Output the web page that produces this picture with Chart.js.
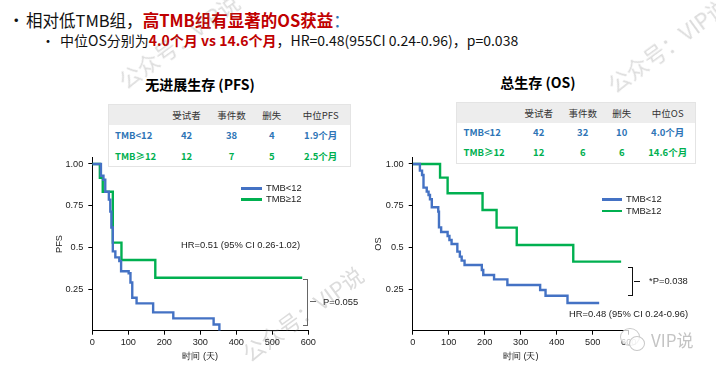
<!DOCTYPE html>
<html>
<head>
<meta charset="utf-8">
<script src="https://cdn.jsdelivr.net/npm/chart.js@4.4.0/dist/chart.umd.min.js"></script>
<style>
  html, body { margin: 0; padding: 0; background: #fff; }
  body { width: 716px; height: 372px; position: relative; overflow: hidden;
         font-family: "Noto Sans CJK SC", "Noto Sans", sans-serif; color: #111; }
  .abs { position: absolute; white-space: nowrap; }
  canvas { position: absolute; left: 0; top: 0; }
  .red { color: #C00000; font-weight: bold; }
  .lbl { font-family: "Liberation Sans", Arial, sans-serif; font-size: 9.4px; line-height: 12px; color: #222; }
  .title { font-size: 14px; font-weight: bold; line-height: 18px; color: #000; transform: translateX(-50%); }
  .tbl { position: absolute; background: #fff; border: 1px solid #e4e4e4; box-sizing: border-box; }
  .tbl .row { position: relative; }
  .tbl .hdr { background: #ededed; }
  .tbl span { position: absolute; top: 0; transform: translateX(-50%); font-size: 9.5px; white-space: nowrap; }
  .tbl span.first { transform: none; }
  .leg { position: absolute; height: 2.5px; }
  .wm { position: absolute; white-space: nowrap; font-size: 22px; color: rgba(120,120,120,0.26);
        transform: translate(-50%, -50%) rotate(-36deg); }
</style>
</head>
<body>
  <!-- bullet lines -->
  <div class="abs" style="left:8px;top:10px;font-size:16.5px;line-height:20px;">•</div>
  <div class="abs" style="left:26px;top:10px;font-size:16.5px;line-height:20px;">相对低TMB组，<span class="red">高TMB组有显著的OS获益</span><span style="color:#2E75B6">：</span></div>
  <div class="abs" style="left:41px;top:31px;font-size:14px;line-height:19px;">•</div>
  <div class="abs" style="left:60px;top:31px;font-size:14px;line-height:19px;">中位OS分别为<span class="red">4.0个月 vs 14.6个月</span>，HR=0.48(955CI 0.24-0.96)，p=0.038</div>

  <!-- panel titles -->
  <div class="abs title" style="left:200px;top:75px;">无进展生存 (PFS)</div>
  <div class="abs title" style="left:538px;top:73px;">总生存 (OS)</div>

  <div id="pfsTable"></div>
  <div id="osTable"></div>

  <canvas id="pfsChart" width="716" height="372"></canvas>
  <canvas id="osChart" width="716" height="372"></canvas>

  <!-- PFS annotations -->
  <div class="leg" style="left:241px;top:187px;width:21px;background:#4472C4;"></div>
  <div class="abs lbl" style="left:266px;top:182px;">TMB&lt;12</div>
  <div class="leg" style="left:241px;top:198px;width:21px;background:#00B050;"></div>
  <div class="abs lbl" style="left:266px;top:193px;">TMB≥12</div>
  <div class="abs lbl" style="left:181px;top:239px;">HR=0.51 (95% CI 0.26-1.02)</div>
  <div class="abs" style="left:303px;top:279px;width:4px;height:45px;border:1.5px solid #666;border-left:none;"></div>
  <div class="abs" style="left:310px;top:301px;width:6px;border-top:1.5px solid #666;"></div>
  <div class="abs lbl" style="left:323px;top:296px;">P=0.055</div>

  <!-- OS annotations -->
  <div class="leg" style="left:602px;top:198px;width:20px;background:#4472C4;"></div>
  <div class="abs lbl" style="left:626px;top:193px;">TMB&lt;12</div>
  <div class="leg" style="left:602px;top:209.5px;width:20px;background:#00B050;"></div>
  <div class="abs lbl" style="left:626px;top:204.7px;">TMB≥12</div>
  <div class="abs" style="left:628px;top:266.5px;width:4px;height:27px;border:1.2px solid #111;border-left:none;"></div>
  <div class="abs" style="left:634px;top:280.5px;width:6px;border-top:1.2px solid #111;"></div>
  <div class="abs lbl" style="left:649px;top:275px;">*P=0.038</div>
  <div class="abs lbl" style="left:569px;top:308px;">HR=0.48 (95% CI 0.24-0.96)</div>

  <!-- watermarks -->
  <div class="wm" style="left:178px;top:40px;">公众号：VIP说</div>
  <div class="wm" style="left:667px;top:44px;">公众号：VIP说</div>
  <div class="wm" style="left:302px;top:313px;">公众号：VIP说</div>
  <div class="abs" style="left:620px;top:328px;width:18px;height:16px;border-radius:50%;border:1px solid #c8c8c8;background:rgba(255,255,255,0.75);"></div>
  <div class="abs" style="left:629px;top:336px;width:14px;height:13px;border-radius:50%;border:1px solid #c8c8c8;background:rgba(255,255,255,0.75);"></div>
  <div class="abs" style="left:651px;top:329px;font-size:17px;line-height:22px;color:#c4c4c4;">VIP说</div>

<script>
  // ---- data (days, survival) ----
  const xTicks = [0, 100, 200, 300, 400, 500, 600];
  const yTicks = [0.25, 0.5, 0.75, 1.0];
  const yTickLabels = ["0.25", "0.5", "0.75", "1.00"];

  const pfsLowDays  = [0, 24, 31, 36, 46, 50, 53, 57, 64, 75, 80, 101, 106, 111, 123, 169, 225, 337, 353];
  const pfsLowSurv  = [1, 0.929, 0.905, 0.833, 0.786, 0.714, 0.619, 0.476, 0.44, 0.417, 0.357, 0.345, 0.289, 0.198, 0.164, 0.11, 0.074, 0.037, 0];
  const pfsHighDays = [0, 21, 29, 57, 81, 175, 583];
  const pfsHighSurv = [1, 0.917, 0.833, 0.528, 0.424, 0.318, 0.318];

  const osLowDays  = [0, 20, 26, 30, 39, 44, 48, 53, 71, 73, 79, 97, 102, 108, 124, 131, 136, 144, 192, 196, 226, 263, 354, 369, 430, 518];
  const osLowSurv  = [1, 0.96, 0.934, 0.858, 0.834, 0.814, 0.788, 0.74, 0.714, 0.62, 0.592, 0.568, 0.544, 0.52, 0.474, 0.444, 0.42, 0.394, 0.364, 0.334, 0.308, 0.274, 0.244, 0.21, 0.166, 0.166];
  const osHighDays = [0, 76, 97, 194, 233, 289, 446, 579];
  const osHighSurv = [1, 0.918, 0.824, 0.724, 0.618, 0.514, 0.414, 0.414];

  const tableHeader = ["", "受试者", "事件数", "删失"];
  const pfsRows = [["TMB<12", "42", "38", "4", "1.9个月"], ["TMB≥12", "12", "7", "5", "2.5个月"]];
  const osRows  = [["TMB<12", "42", "32", "10", "4.0个月"], ["TMB≥12", "12", "6", "6", "14.6个月"]];

  const BLUE = "#4472C4", GREEN = "#00B050";
  const ROW_COLORS = ["#2E75B6", "#00B050"];

  /* --------------------------- TABLES ----------------------------------- */
  function buildTable(id, box, centers, lastHead, rows) {
    const el = document.getElementById(id);
    el.className = "tbl";
    Object.assign(el.style, { left: box.left + "px", top: box.top + "px", width: box.width + "px" });
    const head = [...tableHeader, lastHead];
    const mk = (cells, h, cls, color, weight) => {
      const r = document.createElement("div");
      r.className = "row " + cls;
      r.style.height = h + "px";
      cells.forEach((c, i) => {
        const s = document.createElement("span");
        s.textContent = c;
        s.style.lineHeight = h + "px";
        if (i === 0) { s.className = "first"; s.style.left = box.labelLeft + "px"; }
        else s.style.left = centers[i - 1] + "px";
        s.style.color = color;
        s.style.fontWeight = (i === 4 || i === 0) ? "bold" : weight;
        r.appendChild(s);
      });
      el.appendChild(r);
    };
    mk(head, box.headH, "hdr", "#333", "normal");
    el.querySelectorAll(".hdr span").forEach(s => s.style.fontWeight = "normal");
    rows.forEach((r, i) => mk(r, box.rowH, "", ROW_COLORS[i], "600"));
  }
  buildTable("pfsTable", { left: 108, top: 104, width: 243, headH: 20, rowH: 20.7, labelLeft: 6 },
             [77.5, 122.5, 162.7, 211.7], "中位PFS", pfsRows);
  buildTable("osTable", { left: 456, top: 102, width: 240, headH: 20.4, rowH: 19.8, labelLeft: 6.5 },
             [81.7, 125.7, 164.7, 210.7], "中位OS", osRows);

  /* --------------------------- CHARTS ----------------------------------- */
  const kmPoints = (days, surv) => days.map((d, i) => ({ x: d, y: surv[i] }));
  const tickFont = { size: 9.2, family: "'Liberation Sans', Arial, sans-serif" };

  function makeKM(canvasId, g, yTitle, low, high) {
    const series = (pts, color) => ({
      data: pts, borderColor: color, backgroundColor: color, borderWidth: 2.4,
      stepped: true, pointRadius: 0, fill: false, tension: 0,
    });
    return new Chart(document.getElementById(canvasId), {
      type: "line",
      data: { datasets: [series(low, BLUE), series(high, GREEN)] },
      options: {
        responsive: false, animation: false, devicePixelRatio: 1,
        layout: { padding: { left: g.left - g.yW, right: 716 - g.right, top: 157.3, bottom: 0 } },
        plugins: { legend: { display: false }, tooltip: { enabled: false } },
        scales: {
          x: {
            type: "linear", min: 0, max: 600,
            afterBuildTicks: s => { s.ticks = xTicks.map(v => ({ value: v })); },
            afterFit: s => { s.height = 41.3; },
            grid: { drawOnChartArea: false, drawTicks: true, tickLength: 4, color: "#000" },
            border: { color: "#000", width: 1 },
            ticks: { color: "#222", font: tickFont, padding: 2, maxRotation: 0, autoSkip: false },
            title: { display: true, text: "时间 (天)", color: "#222", font: tickFont, padding: { top: 0, bottom: 10 } },
          },
          y: {
            min: 0, max: 1.04,
            afterBuildTicks: s => { s.ticks = yTicks.map(v => ({ value: v })); },
            afterFit: s => { s.width = g.yW; },
            grid: { drawOnChartArea: false, drawTicks: true, tickLength: 4, color: "#000" },
            border: { color: "#000", width: 1 },
            ticks: { color: "#222", font: tickFont, padding: 5, callback: (v, i) => yTickLabels[i] },
            title: { display: true, text: yTitle, color: "#222", font: tickFont, padding: { top: 1.8, bottom: 0 } },
          },
        },
      },
    });
  }

  makeKM("pfsChart", { left: 92.3, right: 308.3, yW: 40 }, "PFS",
         kmPoints(pfsLowDays, pfsLowSurv), kmPoints(pfsHighDays, pfsHighSurv));
  makeKM("osChart", { left: 412.7, right: 628.7, yW: 41.5 }, "OS",
         kmPoints(osLowDays, osLowSurv), kmPoints(osHighDays, osHighSurv));
</script>
</body>
</html>
